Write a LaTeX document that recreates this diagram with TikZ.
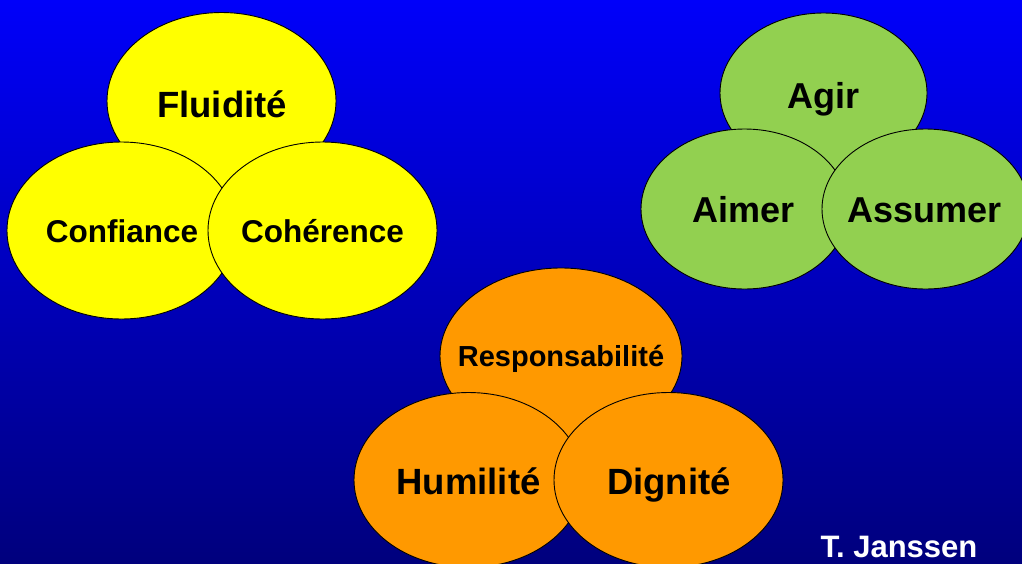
\documentclass[tikz,border=0pt]{standalone}
\usepackage{fontspec}
\setmainfont{Liberation Sans}
\usetikzlibrary{shapes.geometric}
\definecolor{bgtop}{RGB}{0,0,250}
\definecolor{bgbot}{RGB}{0,0,125}
\definecolor{yel}{RGB}{255,255,0}
\definecolor{grn}{RGB}{146,208,80}
\definecolor{org}{RGB}{255,153,0}
\tikzset{
  blob/.style={ellipse, draw=black, line width=0.9pt, inner sep=0pt},
  yblob/.style={blob, fill=yel, minimum width=229pt, minimum height=177pt},
  gblob/.style={blob, fill=grn, minimum width=207pt, minimum height=160pt},
  oblob/.style={blob, fill=org, minimum width=229pt, minimum height=175pt},
  lbl/.style={anchor=base, inner sep=0pt, font=\bfseries\fontsize{#1}{#1}\selectfont},
}
\begin{document}
\begin{tikzpicture}[x=1pt,y=-1pt]
\useasboundingbox (0,0) rectangle (1022,563);
\shade[top color=bgtop, bottom color=bgbot] (0,0) rectangle (1022,563);
% yellow group
\node[yblob] (flu) at (221.5,101) {};
\node[lbl=36.5] (tflu) at (222,117) {Fluidité};
\node[yblob] (conf) at (121.5,230.5) {};
\node[lbl=31.5] (tconf) at (122,242.5) {Confiance};
\node[yblob] (coh) at (322.5,230.5) {};
\node[lbl=31.5] (tcoh) at (322.5,242.5) {Cohérence};
% green group
\node[gblob] (agir) at (823.5,93) {};
\node[lbl=36] (tagir) at (823.5,108) {Agir};
\node[gblob] (aimer) at (744.5,209) {};
\node[lbl=36] (taimer) at (743.7,222.5) {Aimer};
\node[gblob] (assu) at (925.5,209) {};
\node[lbl=36] (tassu) at (924.7,222.5) {Assumer};
% orange group
\node[oblob, minimum width=242pt, minimum height=176pt] (resp) at (561,356) {};
\node[lbl=29] (tresp) at (561,366) {Responsabilité};
\node[oblob] (humi) at (468.5,480) {};
\node[lbl=36.5] (thumi) at (468.5,494.3) {Humilité};
\node[oblob] (dign) at (668.5,480) {};
\node[lbl=36.5] (tdign) at (669,494.3) {Dignité};
% author
\node[lbl=31, text=white] (auth) at (899,557.5) {T. Janssen};
\end{tikzpicture}
\end{document}
